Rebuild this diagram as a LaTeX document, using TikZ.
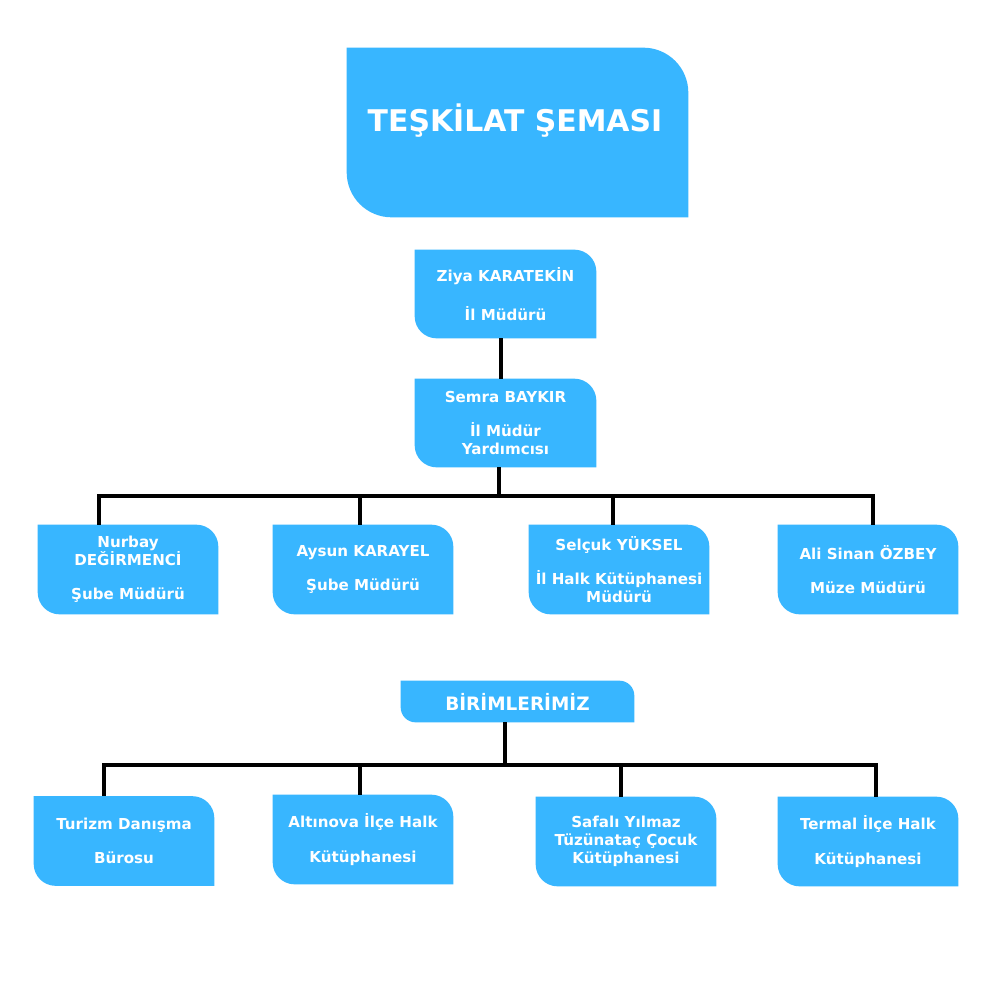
\documentclass[tikz,border=0pt]{standalone}
\usepackage{fontspec}
\setmainfont{DejaVu Sans}
\usepackage{xcolor}
\usetikzlibrary{positioning, backgrounds}
\definecolor{cblue}{RGB}{56, 182, 255}

% card with top-right and bottom-left corners rounded
\newcommand{\tabshape}[2]{%
  \fill[cblue] (#1.north west) -- ([xshift=-#2]#1.north east)
    arc[start angle=90, end angle=0, radius=#2] -- (#1.south east)
    -- ([xshift=#2]#1.south west) arc[start angle=270, end angle=180, radius=#2] -- cycle;}

\begin{document}
\begin{tikzpicture}[
    x=0.02cm, y=-0.02cm,
    card/.style={minimum width=3.6cm, minimum height=1.78cm, inner sep=0pt, align=center, text=white, font=\bfseries\fontsize{8.6}{10.2}\selectfont},
    titlebox/.style={minimum width=6.82cm, minimum height=3.38cm, inner sep=0pt},
    titletext/.style={text=white, font=\bfseries\fontsize{17}{20}\selectfont},
    unitbox/.style={minimum width=4.66cm, minimum height=0.82cm, inner sep=0pt, text=white, font=\bfseries\fontsize{10.5}{12}\selectfont},
    wire/.style={line width=2.2pt, black},
]
    \useasboundingbox (0,0) rectangle (1000,1000);

    % Heading
    \node[titlebox] (title) at (517.5,132.5) {};
    \node[titletext] (heading) at (515,121) {TEŞKİLAT ŞEMASI};

    % Management
    \node[card, minimum width=3.62cm, minimum height=1.76cm] (ziya) at (505.5,294) {Ziya KARATEKİN\\[12pt]İl Müdürü};
    \node[card, minimum width=3.62cm, minimum height=1.76cm] (semra) at (505.5,423) {Semra BAYKIR\\[9pt]İl Müdür\\Yardımcısı};

    % Managers
    \node[card] (nurbay) at (128,569.5) {Nurbay\\DEĞİRMENCİ\\[9.3pt]Şube Müdürü};
    \node[card] (aysun) at (363,569.5) {Aysun KARAYEL\\[9.3pt]Şube Müdürü};
    \node[card] (selcuk) at (619,569.5) {Selçuk YÜKSEL\\[9.3pt]İl Halk Kütüphanesi\\Müdürü};
    \node[card] (ali) at (868,569.5) {Ali Sinan ÖZBEY\\[9.3pt]Müze Müdürü};

    % Units
    \node[unitbox] (birim) at (517.5,701.5) {BİRİMLERİMİZ};
    \node[card] (turizm) at (124,841) {Turizm Danışma\\[9.3pt]Bürosu};
    \node[card] (altinova) at (363,839.5) {Altınova İlçe Halk\\[9.3pt]Kütüphanesi};
    \node[card] (safali) at (626,841.5) {Safalı Yılmaz\\Tüzünataç Çocuk\\Kütüphanesi};
    \node[card] (termal) at (868,841.5) {Termal İlçe Halk\\[9.3pt]Kütüphanesi};

    % Card fills
    \begin{scope}[on background layer, x=1cm, y=1cm]
        \fill[white] (0,0) rectangle (20,-20);
        \tabshape{title}{0.9cm}
        \tabshape{birim}{0.3cm}
        \foreach \n in {ziya, semra, nurbay, aysun, selcuk, ali, turizm, altinova, safali, termal}
            {\tabshape{\n}{0.44cm}}
    \end{scope}

    % Connectors, upper tree
    \coordinate (t1) at (99,496);
    \coordinate (t2) at (360,496);
    \coordinate (t3) at (613,496);
    \coordinate (t4) at (873,496);
    \draw[wire] ([xshift=-0.09cm]ziya.south) -- ([xshift=-0.09cm]semra.north);
    \draw[wire] ([xshift=-0.13cm]semra.south) -- ([xshift=-0.13cm]semra.south |- t1);
    \draw[wire] (t1 |- nurbay.north) -- (t1) -- (t4) -- (t4 |- ali.north);
    \draw[wire] (t2) -- (t2 |- aysun.north);
    \draw[wire] (t3) -- (t3 |- selcuk.north);

    % Connectors, lower tree
    \coordinate (u1) at (104,765);
    \coordinate (u2) at (360,765);
    \coordinate (u3) at (621,765);
    \coordinate (u4) at (876,765);
    \draw[wire] ([xshift=-0.25cm]birim.south) -- ([xshift=-0.25cm]birim.south |- u1);
    \draw[wire] (u1 |- turizm.north) -- (u1) -- (u4) -- (u4 |- termal.north);
    \draw[wire] (u2) -- (u2 |- altinova.north);
    \draw[wire] (u3) -- (u3 |- safali.north);
\end{tikzpicture}
\end{document}
